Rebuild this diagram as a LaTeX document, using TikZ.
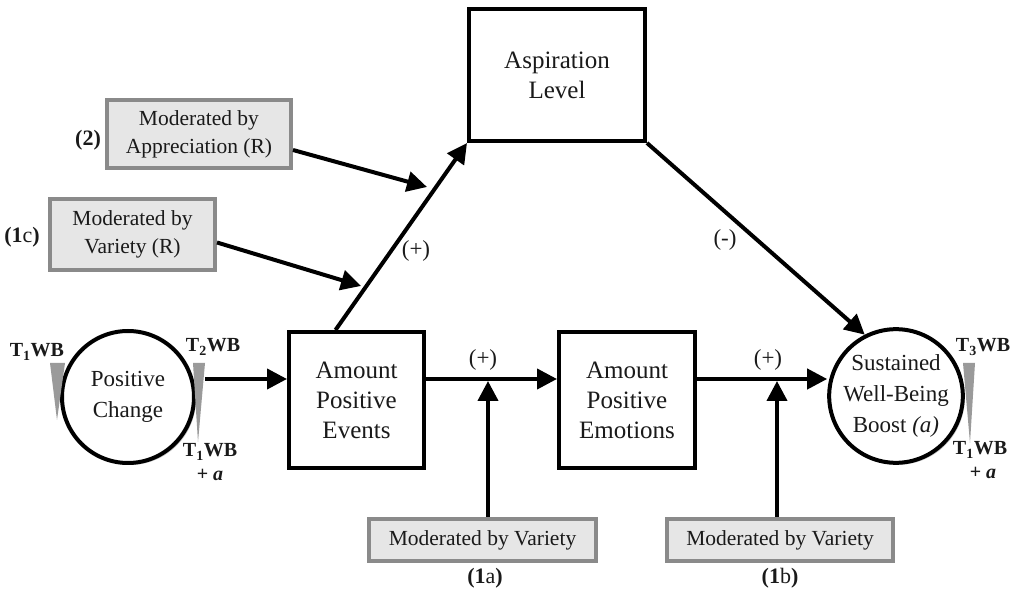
\documentclass[tikz,border=0pt]{standalone}
\usepackage{fontspec}
\setmainfont{Liberation Serif}
\usetikzlibrary{arrows.meta,calc,shadows}
\definecolor{modfill}{HTML}{E6E6E6}
\definecolor{modline}{HTML}{8A8A8A}
\definecolor{wedgecol}{HTML}{9A9A9A}
\definecolor{txt}{HTML}{1A1A1A}
\begin{document}
\begin{tikzpicture}[x=1pt,y=-1pt,
 shad/.style={drop shadow={shadow xshift=2pt, shadow yshift=-2pt, opacity=0.22, fill=black}},
 mainbox/.style={draw=black, line width=4pt, fill=white, shad, align=center, inner sep=0pt, font=\fontsize{25}{30}\selectfont, text=txt},
 modbox/.style={draw=modline, line width=4pt, fill=modfill, shad, align=center, inner sep=0pt, font=\fontsize{21.5}{28}\selectfont, text=txt},
 circ/.style={circle, draw=black, line width=4pt, fill=white, shad, align=center, inner sep=0pt, minimum size=132pt, font=\fontsize{23}{31}\selectfont, text=txt},
 arr/.style={line width=4pt, -{Triangle[length=20pt,width=20pt]}},
 sign/.style={font=\fontsize{23}{28}\selectfont, text=txt},
 tag/.style={font=\fontsize{22}{26}\selectfont, text=txt},
 wb/.style={font=\fontsize{20}{22}\selectfont\bfseries, text=txt, inner sep=0pt},
 wedgestyle/.style={fill=wedgecol}
]
\path[use as bounding box, fill=white] (0,0) rectangle (1013,593);

% main nodes
\node[mainbox, minimum width=176pt, minimum height=132pt] (asp) at (557,75) {Aspiration\\Level};
\node[mainbox, minimum width=135pt, minimum height=136pt] (events) at (356.5,400) {Amount\\Positive\\Events};
\node[mainbox, minimum width=136pt, minimum height=136pt] (emo) at (627,400) {Amount\\Positive\\Emotions};
\node[modbox, minimum width=184pt, minimum height=68pt] (appr) at (199,134) {Moderated by\\Appreciation (R)};
\node[modbox, minimum width=165pt, minimum height=71pt] (varr) at (132.5,234.5) {Moderated by\\Variety (R)};
\node[modbox, minimum width=227pt, minimum height=42pt] (moda) at (482.5,540) {Moderated by Variety};
\node[modbox, minimum width=226pt, minimum height=42pt] (modb) at (780,540) {Moderated by Variety};
\node[circ] (pc) at (128,397) {Positive\\Change};
\node[circ] (sus) at (896,396) {Sustained\\Well-Being\\Boost \textit{(a)}};

% wedges
\fill[wedgestyle] (50,363) -- (65,363) -- (57,420) -- cycle;
\fill[wedgestyle] (193,363) -- (205,363) -- (198,442) -- cycle;
\fill[wedgestyle] (963,363) -- (975,363) -- (970,443) -- cycle;

% WB labels
\node[wb] (t1a) at (37,352) {T\textsubscript{1}WB};
\node[wb] (t2) at (213,347) {T\textsubscript{2}WB};
\node[wb] (t1b) at (210,452) {T\textsubscript{1}WB};
\node[wb] (pa) at (210,475) {+ \textit{a}};
\node[wb] (t3) at (983,347) {T\textsubscript{3}WB};
\node[wb] (t1c) at (980,450) {T\textsubscript{1}WB};
\node[wb] (pb) at (983,473) {+ \textit{a}};

% signs
\node[sign] (s1) at (416,251) {(+)};
\node[sign] (s2) at (483,360) {(+)};
\node[sign] (s3) at (768,360) {(+)};
\node[sign] (s4) at (725,240) {(-)};

% tags
\node[tag] (l2) at (88,140) {\textbf{(2)}};
\node[tag] (l1c) at (22,237) {\textbf{(1}c\textbf{)}};
\node[tag] (l1a) at (485,578) {\textbf{(1}a\textbf{)}};
\node[tag] (l1b) at (780,578) {\textbf{(1}b\textbf{)}};

% coordinates
\coordinate (row) at (0,379);
\coordinate (j1) at (488,381);
\coordinate (j2) at (777,381);
\coordinate (ta) at (427,187);
\coordinate (tv) at (361,286);
\coordinate (pcout) at ([xshift=9pt]pc.east);
\coordinate (evtop) at ([xshift=-21pt]events.north);
\coordinate (apout) at ([yshift=-16pt]appr.east);
\coordinate (vrout) at ([yshift=-8pt]varr.east);

% connectors
\draw[arr] (pcout |- row) -- (events.west |- row);
\draw[arr] (events.east |- row) -- (emo.west |- row);
\draw[arr] (emo.east |- row) -- (sus.west |- row);
\draw[arr] (j1 |- moda.north) -- (j1);
\draw[arr] (j2 |- modb.north) -- (j2);
\draw[arr] (evtop) -- (asp.south west);
\draw[arr] (apout) -- (ta);
\draw[arr] (vrout) -- (tv);
\draw[arr] (asp.south east) -- (sus.117);
\end{tikzpicture}
\end{document}
